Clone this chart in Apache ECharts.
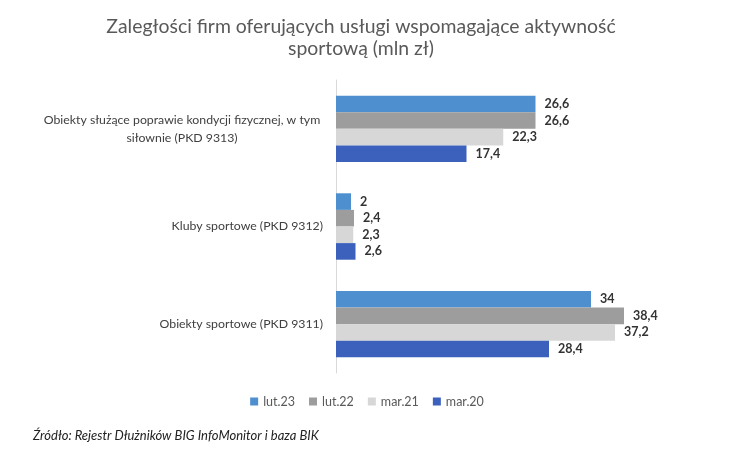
<!DOCTYPE html>
<html>
<head>
<meta charset="utf-8">
<script src="https://cdn.jsdelivr.net/npm/echarts@6/dist/echarts.min.js"></script>
<style>html,body{margin:0;padding:0;background:#fff;}#c{width:734px;height:466px;}</style>
</head>
<body>
<div id="c"></div>
<script>
var titleText = 'Zaległości firm oferujących usługi wspomagające aktywność\nsportową (mln zł)';
var sourceText = 'Źródło: Rejestr Dłużników BIG InfoMonitor i baza BIK';
var categories = [
  'Obiekty służące poprawie kondycji fizycznej, w tym\nsiłownie (PKD 9313)',
  'Kluby sportowe (PKD 9312)',
  'Obiekty sportowe (PKD 9311)'
];
var seriesNames = ['lut.23', 'lut.22', 'mar.21', 'mar.20'];
var lut23 = [26.6, 2, 34];
var lut22 = [26.6, 2.4, 38.4];
var mar21 = [22.3, 2.3, 37.2];
var mar20 = [17.4, 2.6, 28.4];
var colors = ['#4E8FD0', '#9D9D9D', '#D7D7D7', '#3B61BC'];

var FONT = 'Lato';
var chart = echarts.init(document.getElementById('c'));
var values = [lut23, lut22, mar21, mar20];
var series = seriesNames.map(function (n, i) {
  return {
    name: n,
    type: 'bar',
    data: values[i],
    barGap: '0%',
    barCategoryGap: '32%',
    itemStyle: { color: colors[i] },
    label: {
      show: true,
      position: 'right',
      distance: 9,
      fontFamily: FONT,
      fontWeight: 'bold',
      fontSize: 12.5,
      color: '#333',
      formatter: function (p) { return String(p.value).replace('.', ','); }
    }
  };
});

chart.setOption({
  animation: false,
  legend: {
    data: seriesNames,
    bottom: 53,
    left: 'center',
    itemWidth: 8,
    itemHeight: 8,
    itemGap: 14,
    icon: 'rect',
    textStyle: { fontFamily: FONT, fontSize: 12.5, color: '#595959' }
  },
  graphic: [{
    type: 'text',
    x: 361,
    y: 16,
    style: {
      text: titleText,
      font: '19.4px ' + FONT,
      fill: '#595959',
      textAlign: 'center',
      lineHeight: 22
    }
  }, {
    type: 'text',
    left: 33,
    top: 429,
    style: {
      text: sourceText,
      font: 'italic 13px ' + FONT,
      fill: '#222'
    }
  }],
  grid: { left: 336, top: 80, width: 375, height: 293 },
  xAxis: {
    type: 'value',
    min: 0,
    max: 50,
    show: false
  },
  yAxis: {
    type: 'category',
    data: categories,
    inverse: true,
    axisLine: { show: true, lineStyle: { color: '#D9D9D9', width: 1 } },
    axisTick: { show: false },
    axisLabel: {
      margin: 13,
      fontFamily: FONT,
      fontSize: 12.3,
      color: '#404040',
      lineHeight: 18,
      formatter: function (v) {
        if (v.indexOf('\n') >= 0) {
          return v.split('\n').map(function (l) { return '{c|' + l + '}'; }).join('\n');
        }
        return v;
      },
      rich: {
        c: { width: 282, align: 'center', fontFamily: FONT, fontSize: 12.3, color: '#404040', lineHeight: 18 }
      }
    }
  },
  series: series
});
</script>
</body>
</html>
